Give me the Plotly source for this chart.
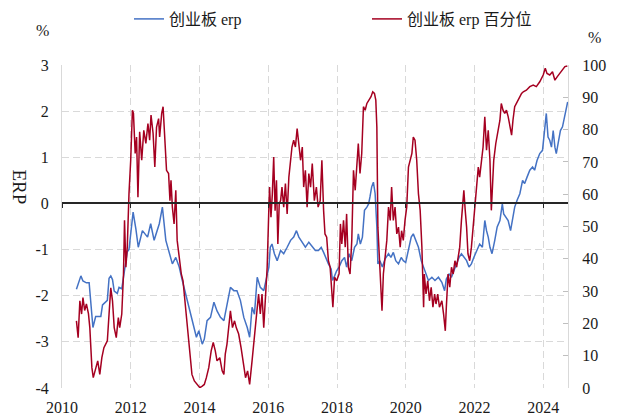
import pandas as pd
import plotly.graph_objects as go

# (decimal year, value)
erp_points = [
    (2010.42, -1.86), (2010.55, -1.57), (2010.61, -1.68), (2010.71, -1.72), (2010.79, -1.72),
    (2010.84, -2.20), (2010.89, -2.60), (2010.90, -2.69), (2010.98, -2.45), (2011.13, -2.45),
    (2011.18, -2.20), (2011.32, -2.10), (2011.37, -1.62), (2011.42, -1.57), (2011.47, -1.65),
    (2011.52, -1.90), (2011.61, -1.95), (2011.66, -1.82), (2011.74, -1.85), (2011.81, -1.53),
    (2011.90, -1.05), (2011.95, -1.00), (2012.05, -0.30), (2012.07, -0.19), (2012.15, -0.55),
    (2012.22, -0.95), (2012.34, -0.59), (2012.49, -0.73), (2012.58, -0.44), (2012.68, -0.80),
    (2012.83, -0.44), (2012.92, -0.08), (2013.02, -0.80), (2013.12, -1.09), (2013.21, -1.31),
    (2013.31, -1.17), (2013.41, -1.38), (2013.50, -1.67), (2013.65, -2.10),
    (2013.74, -2.36), (2013.83, -2.62), (2013.91, -2.90), (2013.98, -2.76), (2014.08, -3.05),
    (2014.14, -2.94), (2014.22, -2.54), (2014.32, -2.47), (2014.42, -2.14), (2014.51, -2.33),
    (2014.61, -2.47), (2014.71, -2.54), (2014.78, -2.25), (2014.85, -1.96), (2014.90, -1.82),
    (2015.00, -1.89), (2015.09, -1.89), (2015.19, -2.10), (2015.29, -2.47), (2015.39, -2.69),
    (2015.46, -2.90), (2015.53, -2.25), (2015.60, -2.40), (2015.68, -1.60), (2015.77, -1.82),
    (2015.87, -1.89), (2015.95, -1.60), (2016.02, -1.38), (2016.06, -0.95), (2016.11, -0.88),
    (2016.18, -1.09), (2016.26, -1.24), (2016.36, -1.02), (2016.45, -1.09), (2016.55, -0.95),
    (2016.65, -0.80), (2016.74, -0.73), (2016.82, -0.59), (2016.89, -0.73), (2016.99, -0.84),
    (2017.08, -0.95), (2017.18, -0.84), (2017.28, -0.95), (2017.37, -1.02),
    (2017.46, -1.02), (2017.54, -0.95), (2017.61, -1.06), (2017.67, -1.17), (2017.75, -1.31),
    (2017.83, -1.42), (2017.87, -1.67), (2017.93, -1.57), (2017.99, -1.46), (2018.06, -1.38),
    (2018.14, -1.24), (2018.22, -1.17), (2018.28, -1.38), (2018.35, -1.09), (2018.43, -1.24),
    (2018.51, -0.95), (2018.58, -0.88), (2018.62, -0.66), (2018.68, -0.88), (2018.74, -0.73),
    (2018.80, -0.15), (2018.87, -0.08), (2018.92, -0.01), (2018.96, 0.14), (2019.01, 0.36),
    (2019.06, 0.46), (2019.11, 0.21), (2019.16, -0.51), (2019.19, -1.31), (2019.25, -1.24),
    (2019.32, -1.38), (2019.40, -1.20), (2019.50, -1.09), (2019.57, -1.17), (2019.64, -1.06),
    (2019.71, -1.24), (2019.79, -1.31), (2019.87, -1.17), (2019.93, -1.24), (2020.00, -1.28),
    (2020.08, -1.02), (2020.16, -0.73), (2020.22, -0.66), (2020.29, -0.80), (2020.37, -0.95),
    (2020.45, -1.24), (2020.52, -1.38), (2020.58, -1.53), (2020.66, -1.67), (2020.76, -1.60),
    (2020.85, -1.67), (2020.95, -1.60), (2021.05, -1.71), (2021.13, -1.89),
    (2021.18, -1.64), (2021.26, -1.53), (2021.33, -1.60), (2021.40, -1.46), (2021.48, -1.31),
    (2021.55, -1.17), (2021.62, -1.09), (2021.69, -1.17), (2021.77, -1.24), (2021.84, -1.38),
    (2021.91, -1.31), (2021.98, -1.17), (2022.06, -1.02), (2022.15, -0.88), (2022.23, -0.95),
    (2022.30, -0.37), (2022.35, -0.59), (2022.40, -0.73), (2022.45, -0.95), (2022.51, -1.09),
    (2022.59, -0.80), (2022.66, -0.51), (2022.74, -0.37), (2022.81, -0.01), (2022.85, -0.23),
    (2022.91, -0.30), (2022.98, -0.37), (2023.05, -0.59), (2023.10, -0.37), (2023.17, -0.08),
    (2023.24, 0.07), (2023.32, 0.21), (2023.40, 0.50), (2023.46, 0.43), (2023.53, 0.57),
    (2023.61, 0.72), (2023.69, 0.79), (2023.75, 0.72), (2023.82, 0.93), (2023.90, 1.08),
    (2023.98, 1.15), (2024.05, 1.66), (2024.09, 1.95), (2024.14, 1.44), (2024.19, 1.37),
    (2024.24, 1.22), (2024.29, 1.58), (2024.34, 1.22), (2024.38, 1.08), (2024.45, 1.37),
    (2024.50, 1.58), (2024.56, 1.66), (2024.63, 1.95), (2024.68, 2.09), (2024.71, 2.20),
]

pct_points = [
    (2010.42, 20.8), (2010.47, 15.6), (2010.52, 27.0), (2010.57, 22.9), (2010.61, 28.0),
    (2010.66, 24.0), (2010.71, 26.0), (2010.77, 23.0), (2010.81, 18.7), (2010.87, 6.3),
    (2010.91, 3.2), (2010.98, 6.3), (2011.04, 8.4), (2011.10, 4.2), (2011.16, 9.4),
    (2011.22, 12.5), (2011.32, 14.6), (2011.37, 22.9), (2011.42, 31.0), (2011.47, 27.0),
    (2011.52, 18.7), (2011.58, 15.6), (2011.64, 21.8), (2011.68, 18.7), (2011.74, 22.9),
    (2011.79, 35.3), (2011.82, 51.9), (2011.86, 37.4), (2011.90, 43.6), (2011.95, 60.1),
    (2012.00, 70.5), (2012.05, 86.0), (2012.08, 85.0), (2012.13, 72.6), (2012.17, 77.7),
    (2012.21, 59.1), (2012.26, 79.3), (2012.32, 70.5), (2012.38, 79.8), (2012.44, 75.7),
    (2012.50, 81.9), (2012.55, 76.7), (2012.59, 84.5), (2012.65, 78.8), (2012.70, 68.4),
    (2012.75, 80.8), (2012.81, 83.4), (2012.84, 77.7), (2012.90, 85.0), (2012.94, 87.1),
    (2012.98, 77.7), (2013.04, 67.4), (2013.10, 66.4), (2013.14, 58.0), (2013.17, 64.3),
    (2013.21, 56.0), (2013.26, 50.8), (2013.31, 61.2), (2013.35, 45.7), (2013.41, 39.4),
    (2013.47, 35.3), (2013.52, 33.2), (2013.58, 27.0), (2013.65, 18.7), (2013.72, 12.5),
    (2013.74, 10.5), (2013.78, 4.2), (2013.85, 2.2), (2013.93, 1.1), (2014.01, 0.1),
    (2014.08, 0.6), (2014.14, 1.1), (2014.20, 3.2), (2014.27, 6.3), (2014.34, 11.5),
    (2014.40, 14.1), (2014.46, 11.5), (2014.51, 8.4), (2014.59, 9.4), (2014.66, 5.3),
    (2014.71, 4.2), (2014.75, 10.5), (2014.80, 13.6), (2014.86, 20.8), (2014.90, 23.9),
    (2014.96, 18.7), (2015.02, 20.8), (2015.07, 18.7), (2015.14, 16.7), (2015.21, 12.5),
    (2015.27, 8.4), (2015.34, 3.2), (2015.40, 5.3), (2015.46, 1.1), (2015.53, 8.4),
    (2015.58, 13.6), (2015.63, 19.8), (2015.68, 24.9), (2015.72, 29.1), (2015.77, 22.9),
    (2015.82, 29.1), (2015.87, 18.7), (2015.92, 27.0), (2015.97, 37.4), (2016.02, 56.0),
    (2016.04, 62.2), (2016.08, 52.9), (2016.12, 60.1), (2016.16, 71.5), (2016.20, 54.9),
    (2016.24, 64.3), (2016.28, 44.6), (2016.32, 57.0), (2016.36, 58.0), (2016.40, 62.2),
    (2016.45, 56.0), (2016.50, 63.3), (2016.55, 53.9), (2016.60, 65.3), (2016.65, 71.5),
    (2016.69, 74.6), (2016.74, 76.7), (2016.79, 74.6), (2016.84, 80.3), (2016.89, 75.7),
    (2016.94, 70.5), (2016.99, 74.6), (2017.03, 62.2), (2017.08, 67.4), (2017.13, 56.0),
    (2017.18, 66.4), (2017.23, 62.2), (2017.28, 69.5), (2017.34, 58.0), (2017.40, 62.2),
    (2017.45, 56.0), (2017.51, 58.0), (2017.56, 70.5), (2017.61, 55.0), (2017.65, 47.7),
    (2017.70, 46.7), (2017.75, 39.4), (2017.80, 37.4), (2017.85, 30.1), (2017.88, 25.0),
    (2017.93, 34.3), (2017.99, 33.2), (2018.06, 35.3), (2018.10, 50.8), (2018.14, 44.6),
    (2018.19, 51.9), (2018.24, 43.6), (2018.28, 53.9), (2018.33, 37.4), (2018.38, 35.3),
    (2018.43, 45.7), (2018.48, 67.4), (2018.53, 61.2), (2018.58, 70.5), (2018.62, 75.7),
    (2018.67, 66.4), (2018.72, 72.6), (2018.77, 87.1), (2018.82, 86.0), (2018.87, 88.1),
    (2018.93, 89.1), (2018.99, 90.2), (2019.04, 91.7), (2019.09, 91.2), (2019.13, 89.1),
    (2019.16, 80.8), (2019.19, 49.8), (2019.23, 39.4), (2019.27, 34.3), (2019.31, 23.9),
    (2019.35, 35.3), (2019.40, 40.5), (2019.45, 45.7), (2019.50, 56.0), (2019.55, 51.9),
    (2019.59, 62.2), (2019.64, 51.9), (2019.69, 56.0), (2019.74, 47.7), (2019.79, 49.8),
    (2019.84, 43.6), (2019.88, 48.7), (2019.93, 45.7), (2019.98, 51.9), (2020.03, 56.0),
    (2020.08, 68.4), (2020.13, 70.5), (2020.18, 72.6), (2020.22, 77.7), (2020.27, 76.7),
    (2020.32, 70.5), (2020.37, 60.1), (2020.42, 55.0), (2020.47, 43.6), (2020.52, 25.0),
    (2020.54, 35.3), (2020.59, 29.1), (2020.64, 33.2), (2020.69, 27.0), (2020.74, 31.2),
    (2020.79, 25.0), (2020.84, 29.1), (2020.88, 26.0), (2020.93, 29.1), (2020.98, 25.0),
    (2021.05, 27.0), (2021.10, 22.9), (2021.15, 17.7), (2021.18, 25.0), (2021.23, 35.3),
    (2021.28, 31.2), (2021.33, 37.4), (2021.38, 35.3), (2021.43, 39.4), (2021.48, 37.4),
    (2021.52, 40.5), (2021.57, 43.6), (2021.62, 51.9), (2021.65, 57.0), (2021.69, 61.2),
    (2021.73, 55.0), (2021.77, 49.8), (2021.81, 41.5), (2021.86, 39.4), (2021.91, 43.6),
    (2021.96, 49.8), (2022.01, 56.0), (2022.06, 62.2), (2022.11, 68.4), (2022.15, 65.3),
    (2022.20, 70.5), (2022.25, 74.6), (2022.30, 84.0), (2022.35, 73.6), (2022.40, 79.8),
    (2022.45, 70.5), (2022.49, 55.0), (2022.52, 62.2), (2022.56, 70.5), (2022.62, 75.7),
    (2022.69, 80.8), (2022.74, 82.9), (2022.78, 88.1), (2022.83, 86.0), (2022.88, 85.0),
    (2022.93, 86.0), (2022.98, 84.0), (2023.03, 80.8), (2023.08, 78.3), (2023.12, 82.9),
    (2023.17, 87.1), (2023.22, 88.1), (2023.27, 89.1), (2023.32, 90.2), (2023.37, 91.2),
    (2023.42, 91.7), (2023.51, 92.2), (2023.61, 93.3), (2023.71, 93.8), (2023.80, 93.3),
    (2023.90, 94.8), (2024.00, 96.9), (2024.06, 99.0), (2024.11, 97.4), (2024.19, 96.9),
    (2024.27, 97.9), (2024.34, 95.3), (2024.41, 96.4), (2024.48, 97.4), (2024.56, 98.4),
    (2024.63, 99.5), (2024.70, 99.7),
]

x_tick_years = [2010, 2012, 2014, 2016, 2018, 2020, 2022, 2024]
left_ticks = [-4, -3, -2, -1, 0, 1, 2, 3]
right_ticks = [0, 10, 20, 30, 40, 50, 60, 70, 80, 90, 100]
x_start, x_end = 2010.0, 2024.72

series_names = ["创业板 erp", "创业板 erp 百分位"]
right_title = "百<br>分<br>位"


def to_ts(y):
    yr = int(y)
    start = pd.Timestamp(yr, 1, 1)
    end = pd.Timestamp(yr + 1, 1, 1)
    return start + (end - start) * (y - yr)


FONT = "Liberation Serif, 'Noto Sans CJK SC', serif"
GRID = "#d9d9d9"
TXT = "#1a1a1a"

erp_x = [to_ts(p[0]) for p in erp_points]
erp_y = [p[1] for p in erp_points]
pct_x = [to_ts(p[0]) for p in pct_points]
pct_y = [p[1] for p in pct_points]

fig = go.Figure()
fig.add_trace(go.Scatter(
    x=erp_x, y=erp_y, name=series_names[0], mode="lines",
    line=dict(color="#4472C4", width=1.5),
))
fig.add_trace(go.Scatter(
    x=pct_x, y=pct_y, name=series_names[1], mode="lines", yaxis="y2",
    line=dict(color="#A50021", width=1.5),
))
# invisible helpers so the zero-line axis (xaxis2) and the tick-only axis (yaxis3) render
fig.add_trace(go.Scatter(
    x=erp_x, y=erp_y, xaxis="x2", yaxis="y", mode="lines", opacity=0,
    showlegend=False, hoverinfo="skip", line=dict(width=0),
))
fig.add_trace(go.Scatter(
    x=pct_x, y=pct_y, yaxis="y3", mode="lines", opacity=0,
    showlegend=False, hoverinfo="skip", line=dict(width=0),
))

xr = [to_ts(x_start), to_ts(x_end)]
xt = [to_ts(y) for y in x_tick_years]

# the page body has an 8px margin; the figure fills the rest of the window
OFF = 8
W, H = 634 - OFF, 415 - OFF
L, R, T, B = 54, 66, 57, 27
pw, ph = W - L - R, H - T - B


def px_x(s):  # screen pixel -> paper x
    return (s - OFF - L) / pw


def px_y(s):  # screen pixel -> paper y
    return (H - B - (s - OFF)) / ph


annotations = [
    dict(text="%", x=px_x(42), y=px_y(30), xanchor="center", yanchor="middle",
         xref="paper", yref="paper", showarrow=False,
         font=dict(family=FONT, size=16, color=TXT)),
    dict(text="%", x=px_x(594), y=px_y(37), xanchor="center", yanchor="middle",
         xref="paper", yref="paper", showarrow=False,
         font=dict(family=FONT, size=16, color=TXT)),
    dict(text="ERP", x=px_x(19.5), y=px_y(187), xanchor="center", yanchor="middle",
         xref="paper", yref="paper", showarrow=False,
         textangle=90, font=dict(family=FONT, size=19, color=TXT)),
    dict(text=right_title, x=px_x(625), xanchor="left", y=px_y(199), yanchor="middle",
         xref="paper", yref="paper", showarrow=False,
         font=dict(family="Noto Sans CJK SC", size=13, color=TXT)),
]

fig.update_layout(
    width=W, height=H,
    margin=dict(l=L, r=R, t=T, b=B, autoexpand=False),
    paper_bgcolor="white", plot_bgcolor="white",
    font=dict(family=FONT, size=16, color=TXT),
    showlegend=True,
    legend=dict(orientation="h", x=px_x(129), xanchor="left", y=px_y(19), yanchor="middle",
                entrywidth=193, entrywidthmode="pixels", itemwidth=30,
                font=dict(family=FONT, size=16, color=TXT), bgcolor="rgba(0,0,0,0)"),
    xaxis=dict(type="date", range=xr, tickvals=xt, ticktext=[str(y) for y in x_tick_years],
               showgrid=True, gridcolor=GRID, griddash="7px,4px", gridwidth=1,
               showline=False, zeroline=False, ticks="", ticklabelstandoff=8,
               tickfont=dict(family=FONT, size=16, color=TXT)),
    xaxis2=dict(type="date", range=xr, tickvals=xt, overlaying="x", anchor="free",
                position=4 / 7, showticklabels=False, showgrid=False, zeroline=False,
                showline=True, linecolor="#262626", linewidth=1.5,
                ticks="outside", ticklen=4, tickcolor="#262626", tickwidth=1),
    yaxis=dict(range=[-4, 3], tickvals=left_ticks, ticktext=[str(v) for v in left_ticks],
               showgrid=True, gridcolor=GRID, griddash="7px,4px", showline=True,
               linecolor=GRID, zeroline=False, ticks="", ticklabelstandoff=9,
               tickfont=dict(family=FONT, size=16, color=TXT)),
    yaxis2=dict(range=[0, 100], tickvals=right_ticks, ticktext=[str(v) for v in right_ticks],
                overlaying="y", side="right", anchor="x",
                showgrid=False, zeroline=False, showline=True, linecolor=GRID,
                ticks="", ticklabelstandoff=10,
                tickfont=dict(family=FONT, size=16, color=TXT)),
    yaxis3=dict(range=[0, 100], tickvals=right_ticks, overlaying="y", side="right", anchor="x",
                showgrid=False, zeroline=False, showline=False, showticklabels=False,
                ticks="inside", ticklen=5, tickcolor="#bfbfbf"),
    annotations=annotations,
)

fig.write_html("out.html")
